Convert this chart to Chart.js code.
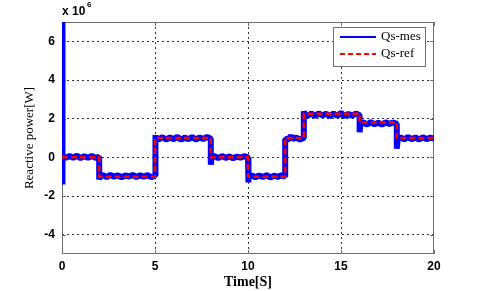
<!DOCTYPE html>
<html>
<head>
<meta charset="utf-8">
<script src="https://cdn.jsdelivr.net/npm/chart.js@4.4.1/dist/chart.umd.min.js"></script>
<style>
  html, body { margin: 0; padding: 0; background: #fff; }
</style>
</head>
<body>
<canvas id="chart" width="480" height="291"></canvas>
<script>
// reference reactive power (x 10^6)
const timeRef = [0, 2, 2, 5, 5, 8, 8, 10, 10, 12, 12, 13, 13, 16, 16, 18, 18, 20];
const qsRef = [0, 0, -1, -1, 1, 1, 0, 0, -1, -1, 1, 1, 2.25, 2.25, 1.8, 1.8, 1, 1];

const timeMes = [
  0, 0, 0.05, 0.2, 0.4, 0.6, 0.8, 1.0, 1.2, 1.4, 1.6, 1.8, 2.0,
  2.0, 2.05, 2.2, 2.4, 2.6, 2.8, 3.0, 3.2, 3.4, 3.6, 3.8, 4.0, 4.2, 4.4, 4.6, 4.8, 5.0,
  5.0, 5.05, 5.2, 5.4, 5.6, 5.8, 6.0, 6.2, 6.4, 6.6, 6.8, 7.0, 7.2, 7.4, 7.6, 7.8, 8.0,
  8.0, 8.05, 8.2, 8.4, 8.6, 8.8, 9.0, 9.2, 9.4, 9.6, 9.8, 10.0,
  10.0, 10.05, 10.2, 10.4, 10.6, 10.8, 11.0, 11.2, 11.4, 11.6, 11.8, 12.0,
  12.0, 12.2, 12.3, 12.4, 12.6, 12.8, 13.0,
  13.0, 13.05, 13.2, 13.4, 13.6, 13.8, 14.0, 14.2, 14.4, 14.6, 14.8, 15.0, 15.2, 15.4, 15.6, 15.8, 16.0,
  16.0, 16.05, 16.2, 16.4, 16.6, 16.8, 17.0, 17.2, 17.4, 17.6, 17.8, 18.0,
  18.0, 18.05, 18.2, 18.4, 18.6, 18.8, 19.0, 19.2, 19.4, 19.6, 19.8, 20.0
];
const qsMes = [
  7, -1.4, 0.08, -0.03, 0.07, -0.02, 0.08, -0.04, 0.06, -0.02, 0.07, -0.03, 0.03,
  -1.15, -0.95, -0.92, -1.02, -0.91, -1.0, -0.93, -1.03, -0.94, -0.99, -0.91, -1.02, -0.93, -1.0, -0.92, -1.03, -0.95,
  1.15, 0.98, 0.93, 1.04, 0.92, 1.03, 0.94, 1.06, 0.91, 1.02, 0.94, 1.05, 0.92, 1.03, 0.95, 1.05, 0.96,
  -0.38, 0.03, 0.06, -0.04, 0.07, -0.03, 0.05, -0.05, 0.04, -0.02, 0.06, 0.0,
  -1.3, -0.97, -0.93, -1.03, -0.94, -1.02, -0.92, -1.04, -0.95, -1.01, -0.93, -1.0,
  0.95, 0.93, 1.12, 0.95, 1.02, 0.92, 1.0,
  2.38, 2.2, 2.15, 2.27, 2.13, 2.28, 2.16, 2.26, 2.12, 2.27, 2.15, 2.3, 2.13, 2.25, 2.15, 2.27, 2.18,
  1.3, 1.76, 1.8, 1.7, 1.82, 1.71, 1.79, 1.69, 1.81, 1.72, 1.8, 1.73,
  0.45, 0.98, 1.03, 0.93, 1.05, 0.94, 1.03, 0.92, 1.04, 0.94, 1.02, 0.97
];

const xTicks = [0, 5, 10, 15, 20];
const yTicks = [-4, -2, 0, 2, 4, 6];
const seriesNames = ["Qs-mes", "Qs-ref"];

const toPoints = (ts, vs) => ts.map((t, i) => ({ x: t, y: vs[i] }));

// box, inner ticks, legend and exponent label like a matlab figure
const matlabFrame = {
  id: "matlabFrame",
  beforeDatasetsDraw(chart) {
    const { ctx, chartArea: a, scales } = chart;
    ctx.save();
    ctx.strokeStyle = "#6e6e6e";
    ctx.lineWidth = 1;
    ctx.setLineDash([]);
    ctx.strokeRect(a.left + 0.5, a.top + 0.5, a.right - a.left - 1, a.bottom - a.top - 1);
    ctx.beginPath();
    yTicks.forEach((v) => {
      const y = Math.round(scales.y.getPixelForValue(v)) + 0.5;
      ctx.moveTo(a.left, y); ctx.lineTo(a.left + 4, y);
      ctx.moveTo(a.right, y); ctx.lineTo(a.right - 4, y);
    });
    xTicks.forEach((v) => {
      const x = Math.round(scales.x.getPixelForValue(v)) + 0.5;
      ctx.moveTo(x, a.bottom); ctx.lineTo(x, a.bottom - 4);
      ctx.moveTo(x, a.top); ctx.lineTo(x, a.top + 4);
    });
    ctx.stroke();
    ctx.restore();
  },
  afterDraw(chart) {
    const { ctx, chartArea: a } = chart;
    ctx.save();
    // exponent
    ctx.fillStyle = "#000";
    ctx.textBaseline = "alphabetic";
    ctx.font = "bold 12px 'Liberation Sans'";
    ctx.fillText("x 10", a.left, a.top - 7);
    ctx.font = "bold 8px 'Liberation Sans'";
    ctx.fillText("6", a.left + 25, a.top - 15);

    // legend
    const lx = 333, ly = 27, lw = 92, lh = 39;
    ctx.fillStyle = "#fff";
    ctx.fillRect(lx, ly, lw, lh);
    ctx.strokeStyle = "#6e6e6e";
    ctx.lineWidth = 1;
    ctx.strokeRect(lx + 0.5, ly + 0.5, lw, lh);
    const rows = [
      { y: ly + 10, color: "#0000ff", dash: [] },
      { y: ly + 27, color: "#ff0000", dash: [5, 3] }
    ];
    rows.forEach((r, i) => {
      ctx.beginPath();
      ctx.strokeStyle = r.color;
      ctx.lineWidth = 2;
      ctx.setLineDash(r.dash);
      ctx.moveTo(lx + 7, r.y);
      ctx.lineTo(lx + 43, r.y);
      ctx.stroke();
      ctx.setLineDash([]);
      ctx.fillStyle = "#000";
      ctx.font = "13px 'Liberation Serif'";
      ctx.textBaseline = "middle";
      ctx.fillText(seriesNames[i], lx + 48, r.y);
    });
    ctx.restore();
  }
};

const ctx = document.getElementById("chart").getContext("2d");
new Chart(ctx, {
  type: "line",
  data: {
    datasets: [
      {
        label: seriesNames[1],
        data: toPoints(timeRef, qsRef),
        borderColor: "#ff0000",
        borderWidth: 2.5,
        borderDash: [6, 3],
        pointRadius: 0,
        tension: 0,
        order: 1
      },
      {
        label: seriesNames[0],
        data: toPoints(timeMes, qsMes),
        borderColor: "#0000ff",
        borderWidth: 6,
        borderJoinStyle: "bevel",
        pointRadius: 0,
        tension: 0,
        order: 2
      }
    ]
  },
  options: {
    responsive: false,
    animation: false,
    layout: { padding: { top: 22, right: 46, left: 0, bottom: 0 } },
    plugins: { legend: { display: false }, tooltip: { enabled: false } },
    scales: {
      x: {
        type: "linear",
        min: 0,
        max: 20,
        afterBuildTicks: (s) => { s.ticks = xTicks.map((v) => ({ value: v })); },
        afterFit: (s) => { s.height = 37; },
        border: { display: false, dash: [2, 3] },
        grid: {
          drawTicks: false,
          color: "#333",
          lineWidth: (c) => (c.tick && (c.tick.value === 0 || c.tick.value === 20) ? 0 : 1)
        },
        ticks: { color: "#000", padding: 5, font: { family: "Liberation Sans", size: 12, weight: "bold" } },
        title: {
          display: true,
          text: "Time[S]",
          color: "#000",
          padding: { top: 0, bottom: 0 },
          font: { family: "Liberation Serif", size: 14, weight: "bold" }
        }
      },
      y: {
        min: -5,
        max: 7,
        afterBuildTicks: (s) => { s.ticks = yTicks.map((v) => ({ value: v })); },
        afterFit: (s) => { s.width = 62; },
        border: { display: false, dash: [2, 3] },
        grid: { drawTicks: false, color: "#333", lineWidth: 1 },
        ticks: { color: "#000", padding: 7, font: { family: "Liberation Sans", size: 12, weight: "bold" } },
        title: {
          display: true,
          text: "Reactive power[W]",
          color: "#000",
          padding: { top: 22, bottom: 0 },
          font: { family: "Liberation Serif", size: 13 }
        }
      }
    }
  },
  plugins: [matlabFrame]
});
</script>
</body>
</html>
